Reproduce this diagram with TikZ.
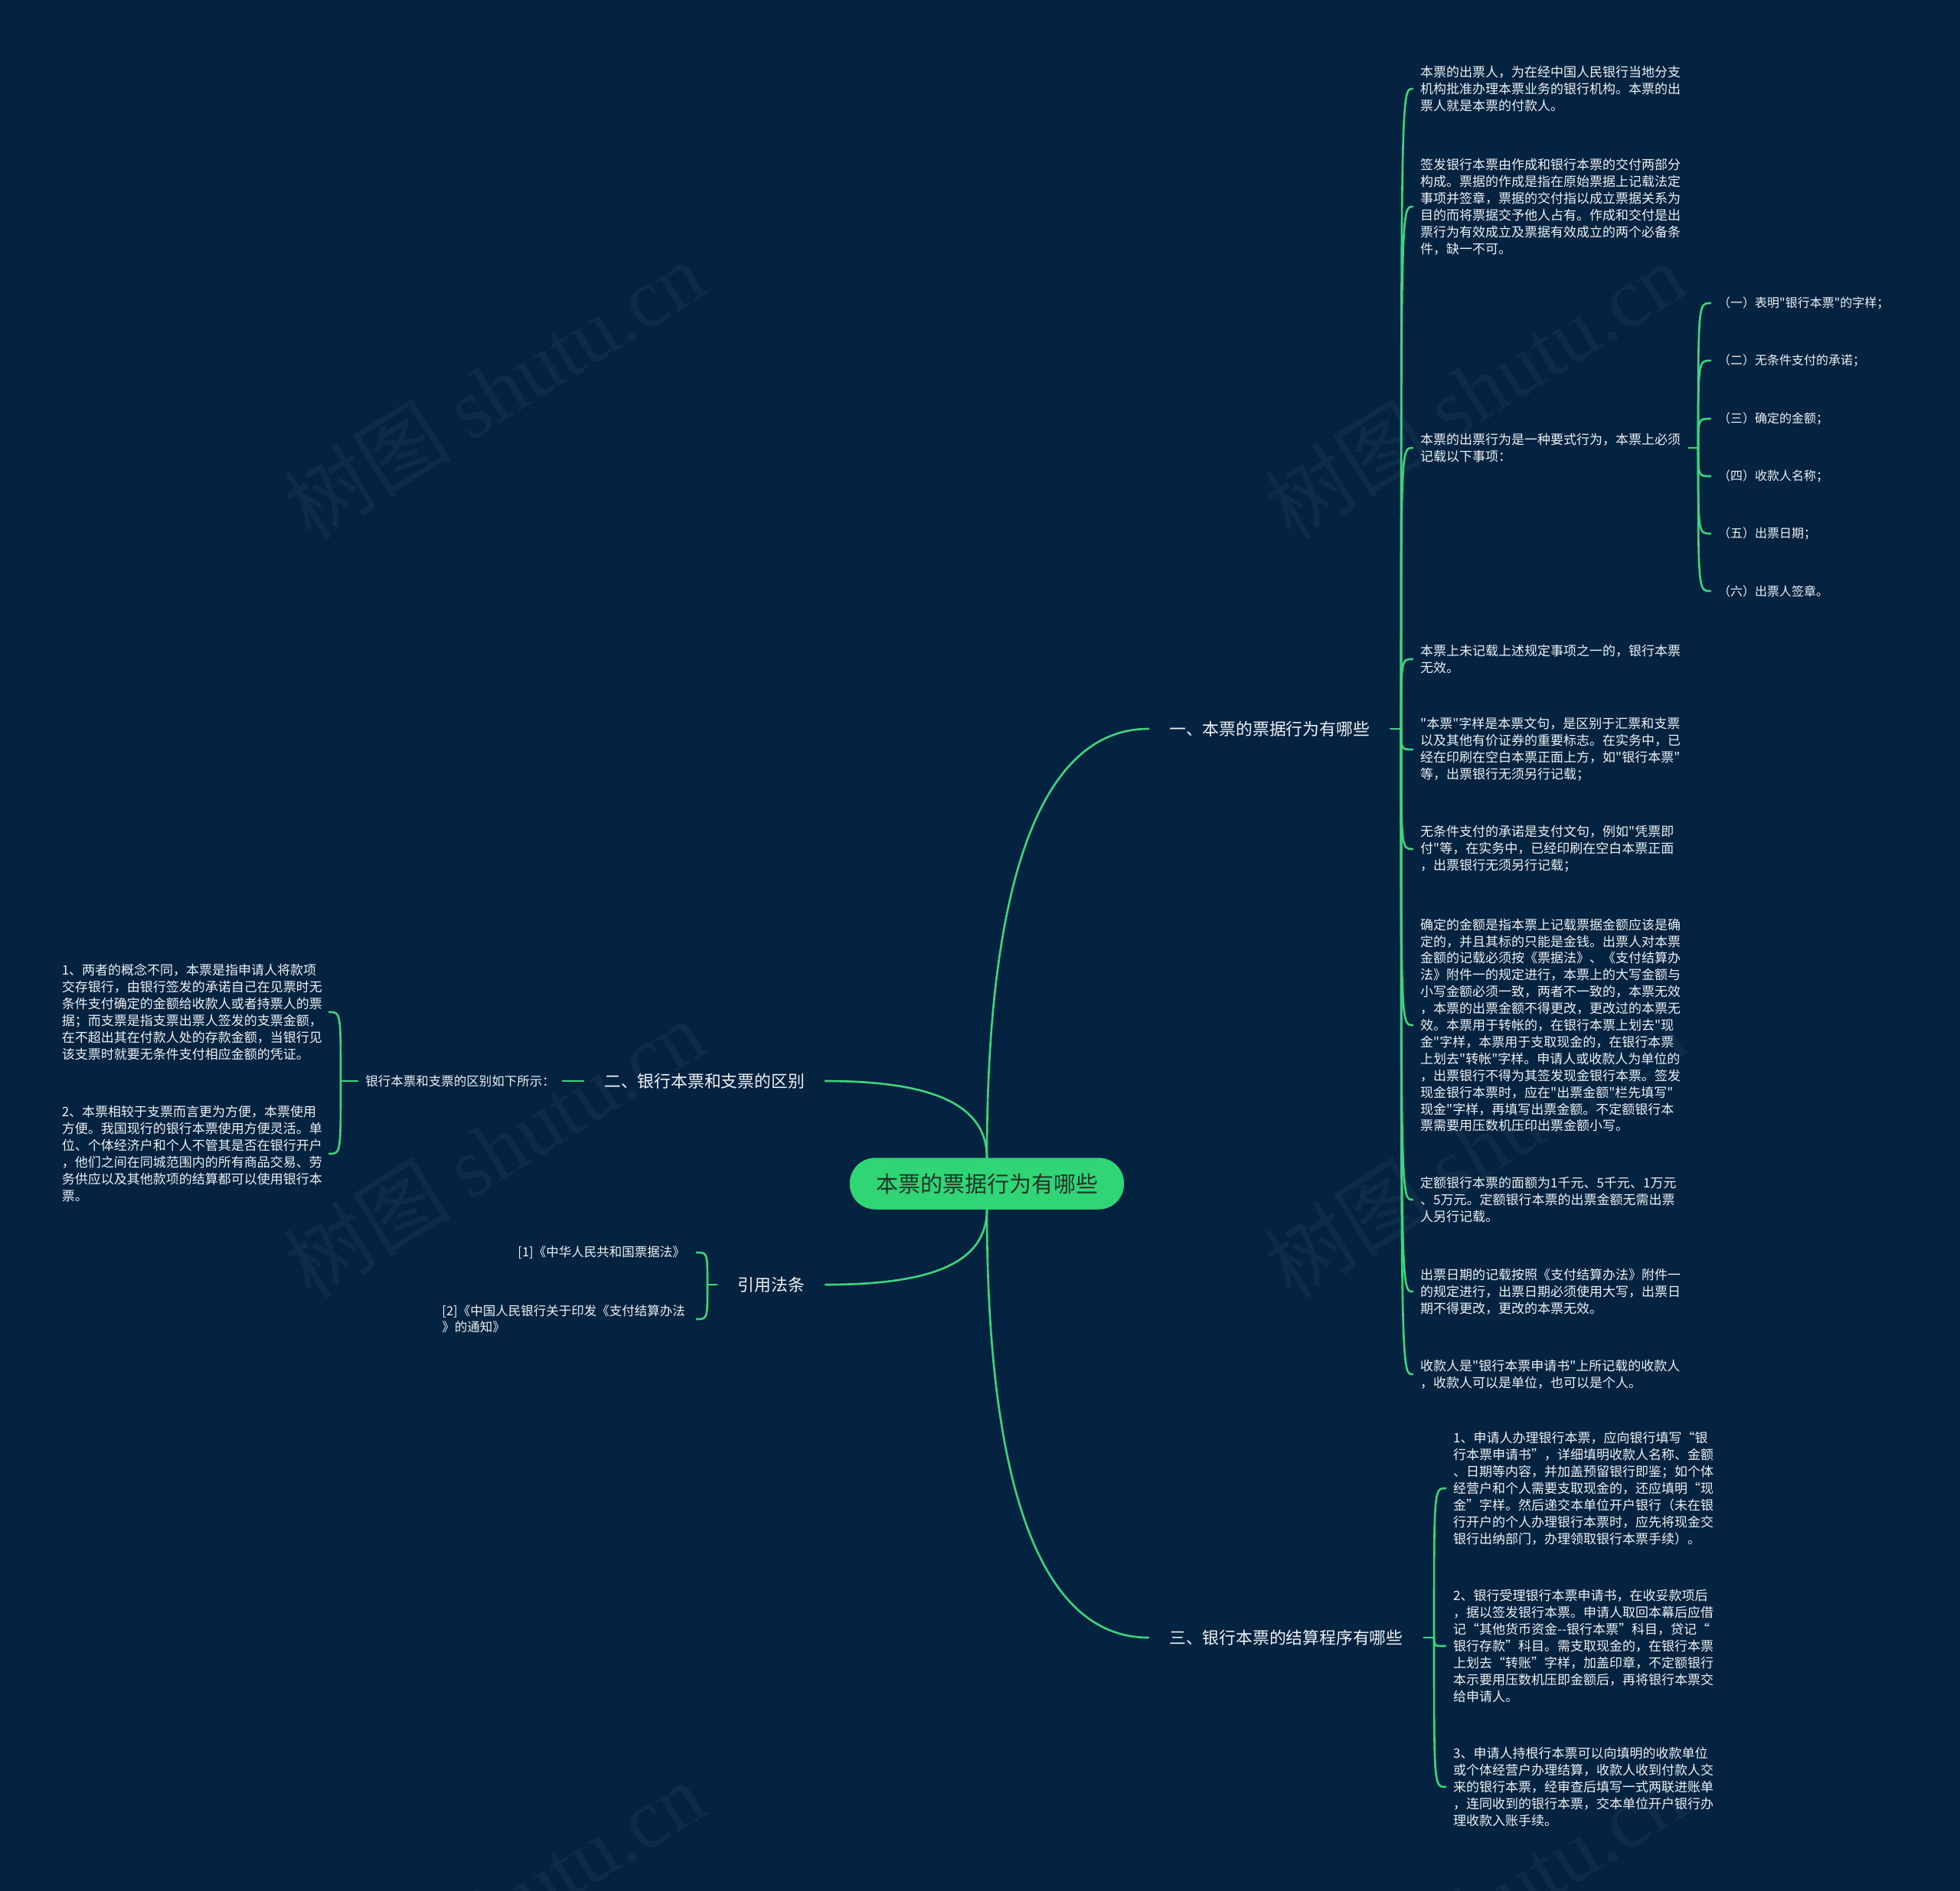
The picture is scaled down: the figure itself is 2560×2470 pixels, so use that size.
\documentclass[tikz,border=0pt]{standalone}
\usepackage{fontspec}
\setmainfont{Noto Sans CJK SC}[Ligatures=TeXOff]
\newfontfamily\wmlatin{Liberation Serif}
\usetikzlibrary{calc}
\definecolor{bgc}{RGB}{3,35,64}
\definecolor{lnc}{RGB}{62,214,124}
\definecolor{rootfill}{RGB}{48,214,117}
\definecolor{roottext}{RGB}{30,52,40}
\definecolor{txt}{RGB}{240,242,245}
\begin{document}
\begin{tikzpicture}[x=1pt,y=-1pt,
  conn/.style={draw=lnc, line width=2.6pt, line cap=round},
  rootnode/.style={fill=rootfill, rounded corners=33pt, minimum width=358pt, minimum height=67pt, text=roottext, font=\fontsize{29}{34}\selectfont, inner sep=0pt},
  branch/.style={text=txt, font=\fontsize{21.8}{26}\selectfont, inner xsep=27pt, inner ysep=4pt},
  leaf/.style={text=txt, font=\fontsize{17}{21.9}\selectfont, align=left, inner xsep=10pt, inner ysep=2pt},
  subleaf/.style={text=txt, font=\fontsize{16}{20}\selectfont, inner xsep=10pt, inner ysep=2pt},
  wm/.style={text=white, text opacity=0.045, rotate=32, font=\fontsize{110}{120}\selectfont}
]
\useasboundingbox (0,0) rectangle (2560,2470);
\fill[bgc] (0,0) rectangle (2560,2470);
\begin{scope}
\clip (0,0) rectangle (2560,2470);
\node[wm] (w1) at (645,509) {树图 {\wmlatin shutu.cn}};
\node[wm] (w2) at (1926,509) {树图 {\wmlatin shutu.cn}};
\node[wm] (w3) at (645,1500) {树图 {\wmlatin shutu.cn}};
\node[wm] (w4) at (1926,1500) {树图 {\wmlatin shutu.cn}};
\node[wm] (w5) at (645,2495) {树图 {\wmlatin shutu.cn}};
\node[wm] (w6) at (1926,2495) {树图 {\wmlatin shutu.cn}};
\end{scope}

% root and branches
\node[rootnode] (root) at (1289,1546) {本票的票据行为有哪些};
\node[branch, anchor=west] (b1) at (1500,952) {一、本票的票据行为有哪些};
\node[branch, anchor=east] (b2) at (1078,1412) {二、银行本票和支票的区别};
\node[branch, anchor=east] (b3) at (1078,1678) {引用法条};
\node[branch, anchor=west] (b4) at (1500,2139) {三、银行本票的结算程序有哪些};

\coordinate (k1) at (1830,952);
\coordinate (k4) at (1873,2139);
\coordinate (k2) at (445,1412);
\coordinate (k3) at (924,1678);
\coordinate (k5) at (2218,585);

% branch 1 children
\node[leaf, anchor=west] (c1) at (1845,116) {本票的出票人，为在经中国人民银行当地分支\\机构批准办理本票业务的银行机构。本票的出\\票人就是本票的付款人。};
\node[leaf, anchor=west] (c2) at (1845,270) {签发银行本票由作成和银行本票的交付两部分\\构成。票据的作成是指在原始票据上记载法定\\事项并签章，票据的交付指以成立票据关系为\\目的而将票据交予他人占有。作成和交付是出\\票行为有效成立及票据有效成立的两个必备条\\件，缺一不可。};
\node[leaf, anchor=west] (c3) at (1845,585) {本票的出票行为是一种要式行为，本票上必须\\记载以下事项：};
\node[leaf, anchor=west] (c4) at (1845,861) {本票上未记载上述规定事项之一的，银行本票\\无效。};
\node[leaf, anchor=west] (c5) at (1845,979) {"本票"字样是本票文句，是区别于汇票和支票\\以及其他有价证券的重要标志。在实务中，已\\经在印刷在空白本票正面上方，如"银行本票"\\等，出票银行无须另行记载；};
\node[leaf, anchor=west] (c6) at (1845,1109) {无条件支付的承诺是支付文句，例如"凭票即\\付"等，在实务中，已经印刷在空白本票正面\\，出票银行无须另行记载；};
\node[leaf, anchor=west] (c7) at (1845,1339) {确定的金额是指本票上记载票据金额应该是确\\定的，并且其标的只能是金钱。出票人对本票\\金额的记载必须按《票据法》、《支付结算办\\法》附件一的规定进行，本票上的大写金额与\\小写金额必须一致，两者不一致的，本票无效\\，本票的出票金额不得更改，更改过的本票无\\效。本票用于转帐的，在银行本票上划去"现\\金"字样，本票用于支取现金的，在银行本票\\上划去"转帐"字样。申请人或收款人为单位的\\，出票银行不得为其签发现金银行本票。签发\\现金银行本票时，应在"出票金额"栏先填写"\\现金"字样，再填写出票金额。不定额银行本\\票需要用压数机压印出票金额小写。};
\node[leaf, anchor=west] (c8) at (1845,1567) {定额银行本票的面额为1千元、5千元、1万元\\、5万元。定额银行本票的出票金额无需出票\\人另行记载。};
\node[leaf, anchor=west] (c9) at (1845,1687) {出票日期的记载按照《支付结算办法》附件一\\的规定进行，出票日期必须使用大写，出票日\\期不得更改，更改的本票无效。};
\node[leaf, anchor=west] (c10) at (1845,1795) {收款人是"银行本票申请书"上所记载的收款人\\，收款人可以是单位，也可以是个人。};

% level 3
\node[subleaf, anchor=west] (s1) at (2234,396) {（一）表明"银行本票"的字样；};
\node[subleaf, anchor=west] (s2) at (2234,471) {（二）无条件支付的承诺；};
\node[subleaf, anchor=west] (s3) at (2234,547) {（三）确定的金额；};
\node[subleaf, anchor=west] (s4) at (2234,622) {（四）收款人名称；};
\node[subleaf, anchor=west] (s5) at (2234,697) {（五）出票日期；};
\node[subleaf, anchor=west] (s6) at (2234,772) {（六）出票人签章。};

% branch 4 children
\node[leaf, anchor=west] (d1) at (1888,1944) {1、申请人办理银行本票，应向银行填写“银\\行本票申请书”，详细填明收款人名称、金额\\、日期等内容，并加盖预留银行即鉴；如个体\\经营户和个人需要支取现金的，还应填明“现\\金”字样。然后递交本单位开户银行（未在银\\行开户的个人办理银行本票时，应先将现金交\\银行出纳部门，办理领取银行本票手续）。};
\node[leaf, anchor=west] (d2) at (1888,2150) {2、银行受理银行本票申请书，在收妥款项后\\，据以签发银行本票。申请人取回本幕后应借\\记“其他货币资金--银行本票”科目，贷记“\\银行存款”科目。需支取现金的，在银行本票\\上划去“转账”字样，加盖印章，不定额银行\\本示要用压数机压即金额后，再将银行本票交\\给申请人。};
\node[leaf, anchor=west] (d3) at (1888,2334) {3、申请人持根行本票可以向填明的收款单位\\或个体经营户办理结算，收款人收到付款人交\\来的银行本票，经审查后填写一式两联进账单\\，连同收到的银行本票，交本单位开户银行办\\理收款入账手续。};

% branch 2 children
\node[leaf, anchor=east, font=\fontsize{16.5}{21}\selectfont] (mid) at (735,1412) {银行本票和支票的区别如下所示：};
\node[leaf, anchor=east, inner xsep=9pt] (e1) at (430,1322) {1、两者的概念不同，本票是指申请人将款项\\交存银行，由银行签发的承诺自己在见票时无\\条件支付确定的金额给收款人或者持票人的票\\据；而支票是指支票出票人签发的支票金额，\\在不超出其在付款人处的存款金额，当银行见\\该支票时就要无条件支付相应金额的凭证。};
\node[leaf, anchor=east, inner xsep=9pt] (e2) at (430,1507) {2、本票相较于支票而言更为方便，本票使用\\方便。我国现行的银行本票使用方便灵活。单\\位、个体经济户和个人不管其是否在银行开户\\，他们之间在同城范围内的所有商品交易、劳\\务供应以及其他款项的结算都可以使用银行本\\票。};

% branch 3 children
\node[leaf, anchor=east, inner xsep=15pt, font=\fontsize{16.5}{21}\selectfont] (f1) at (910,1636) {[1]《中华人民共和国票据法》};
\node[leaf, anchor=east, inner xsep=15pt, font=\fontsize{16.5}{21}\selectfont] (f2) at (910,1723) {[2]《中国人民银行关于印发《支付结算办法\\》的通知》};

% connectors root -> branches
\draw[conn] (root.north) .. controls ($(root.north)+(0,-362)$) and ($(b1.west)+(-140,0)$) .. (b1.west);
\draw[conn] (root.south) .. controls ($(root.south)+(0,364)$) and ($(b4.west)+(-140,0)$) .. (b4.west);
\draw[conn] (root.north) .. controls ($(root.north)+(0,-70)$) and ($(b2.east)+(139,0)$) .. (b2.east);
\draw[conn] (root.south) .. controls ($(root.south)+(0,70)$) and ($(b3.east)+(139,0)$) .. (b3.east);
\node[rootnode] at (root) {本票的票据行为有哪些};

% short stubs
\draw[conn] (b1.east) -- (k1);
\draw[conn] (b4.east) -- (k4);
\draw[conn] (b2.west) -- (mid.east);
\draw[conn] (mid.west) -- (k2);
\draw[conn] (b3.west) -- (k3);
\draw[conn] (c3.east) -- (k5);

% hooks
\foreach \c in {c1,c2,c3,c4,c5,c6,c7,c8,c9,c10}{
  \draw[conn] (k1) .. controls (k1 |- \c.west) .. (\c.west);
}
\foreach \c in {d1,d2,d3}{
  \draw[conn] (k4) .. controls (k4 |- \c.west) .. (\c.west);
}
\foreach \c in {s1,s2,s3,s4,s5,s6}{
  \draw[conn] (k5) .. controls (k5 |- \c.west) .. (\c.west);
}
\foreach \c in {e1,e2}{
  \draw[conn] (k2) .. controls (k2 |- \c.east) .. (\c.east);
}
\foreach \c in {f1,f2}{
  \draw[conn] (k3) .. controls (k3 |- \c.east) .. (\c.east);
}
\end{tikzpicture}
\end{document}
